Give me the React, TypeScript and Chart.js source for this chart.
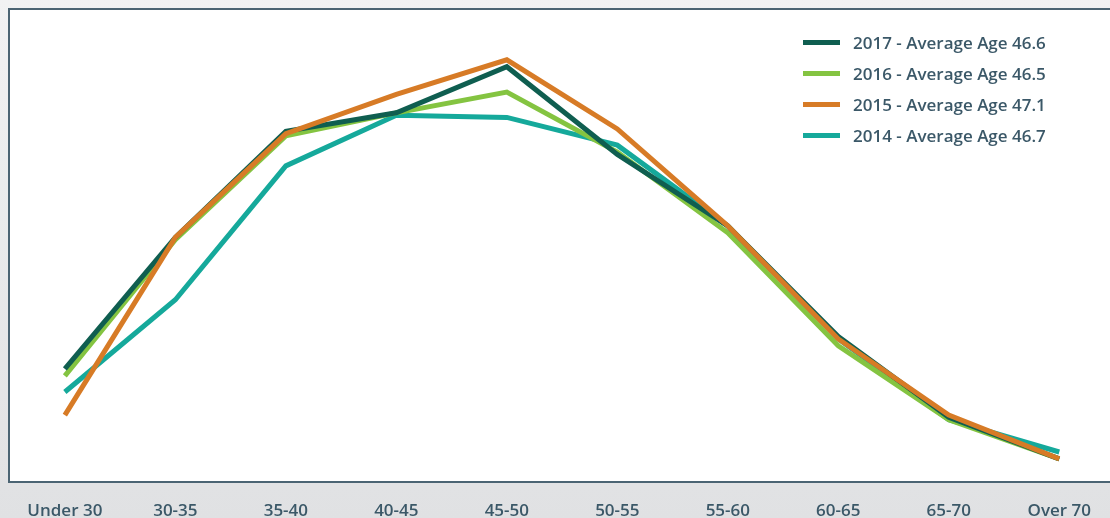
import React, { useEffect, useRef } from "react";
import { Chart, registerables } from "chart.js";

Chart.register(...registerables);

const categories = ["Under 30", "30-35", "35-40", "40-45", "45-50", "50-55", "55-60", "60-65", "65-70", "Over 70"];

const share2017 = [4.9, 10.6, 15.2, 16.0, 18.0, 14.2, 11.1, 6.3, 2.8, 1.0];
const share2016 = [4.6, 10.5, 15.0, 16.0, 16.9, 14.3, 10.8, 5.9, 2.7, 1.0];
const share2015 = [2.9, 10.6, 15.1, 16.8, 18.3, 15.3, 11.1, 6.2, 2.9, 1.0];
const share2014 = [3.9, 7.9, 13.7, 15.9, 15.8, 14.6, 11.1, 6.2, 2.7, 1.3];

const legendLabels = [
  "2017 - Average Age 46.6",
  "2016 - Average Age 46.5",
  "2015 - Average Age 47.1",
  "2014 - Average Age 46.7",
];

const COLORS = {
  y2017: "#0f5e50",
  y2016: "#84c441",
  y2015: "#d77b26",
  y2014: "#15a99b",
};

const TEXT = "#3b5868";
const FONT = "'Open Sans', 'Noto Sans', sans-serif";

const legendItems = [
  { label: legendLabels[0], color: COLORS.y2017 },
  { label: legendLabels[1], color: COLORS.y2016 },
  { label: legendLabels[2], color: COLORS.y2015 },
  { label: legendLabels[3], color: COLORS.y2014 },
];

const plotBox = {
  id: "plotBox",
  beforeDatasetsDraw(chart: any) {
    const { ctx, chartArea } = chart;
    ctx.save();
    ctx.fillStyle = "#ffffff";
    ctx.fillRect(chartArea.left, chartArea.top, chartArea.right - chartArea.left + 20, chartArea.bottom - chartArea.top);
    ctx.strokeStyle = "#4b6473";
    ctx.lineWidth = 2;
    ctx.strokeRect(chartArea.left, chartArea.top, chartArea.right - chartArea.left + 20, chartArea.bottom - chartArea.top);
    ctx.restore();
  },
};

function App() {
  const canvasRef = useRef<HTMLCanvasElement | null>(null);

  useEffect(() => {
    if (!canvasRef.current) return;
    const mk = (label: string, data: number[], color: string) => ({
      label,
      data: data.map((v, i) => ({ x: i, y: v })),
      borderColor: color,
      backgroundColor: color,
      borderWidth: 5,
      pointRadius: 0,
      tension: 0,
      fill: false,
      borderJoinStyle: "miter" as const,
      borderCapStyle: "butt" as const,
    });
    const chart = new Chart(canvasRef.current, {
      type: "line",
      data: {
        datasets: [
          mk(legendLabels[2], share2015, COLORS.y2015),
          mk(legendLabels[0], share2017, COLORS.y2017),
          mk(legendLabels[1], share2016, COLORS.y2016),
          mk(legendLabels[3], share2014, COLORS.y2014),
        ],
      },
      plugins: [plotBox],
      options: {
        animation: false,
        responsive: false,
        maintainAspectRatio: false,
        layout: { padding: { left: 9, top: 9, right: 0, bottom: 0 } },
        plugins: {
          legend: { display: false },
          tooltip: { enabled: false },
        },
        scales: {
          x: {
            type: "linear",
            min: -0.5055,
            max: 9.433,
            grid: { display: false, drawTicks: false },
            border: { display: false },
            afterBuildTicks: (scale: any) => {
              scale.ticks = categories.map((_, i) => ({ value: i }));
            },
            afterFit: (scale: any) => {
              scale.height = 36;
            },
            ticks: {
              autoSkip: false,
              maxRotation: 0,
              padding: 19,
              color: TEXT,
              font: { family: FONT, size: 17, weight: 600 },
              callback: (v: any) => categories[Number(v)] ?? "",
            },
          },
          y: {
            display: false,
            min: 0,
            max: 20.5,
          },
        },
      },
    });
    return () => chart.destroy();
  }, []);

  return (
    <div
      style={{
        position: "fixed",
        left: 0,
        top: 0,
        width: 1110,
        height: 518,
        overflow: "hidden",
        background: "linear-gradient(#f1f2f3, #e0e1e3)",
      }}
    >
      <canvas ref={canvasRef} width={1110} height={518} style={{ display: "block" }} />
      <div style={{ position: "absolute", left: 803, top: 27, fontFamily: FONT }}>
        {legendItems.map((it) => (
          <div key={it.label} style={{ display: "flex", alignItems: "center", height: 31 }}>
            <span style={{ display: "inline-block", width: 37, height: 5, background: it.color, marginRight: 13 }} />
            <span style={{ color: TEXT, fontSize: 17, fontWeight: 600, whiteSpace: "nowrap" }}>{it.label}</span>
          </div>
        ))}
      </div>
    </div>
  );
}

export default App;
